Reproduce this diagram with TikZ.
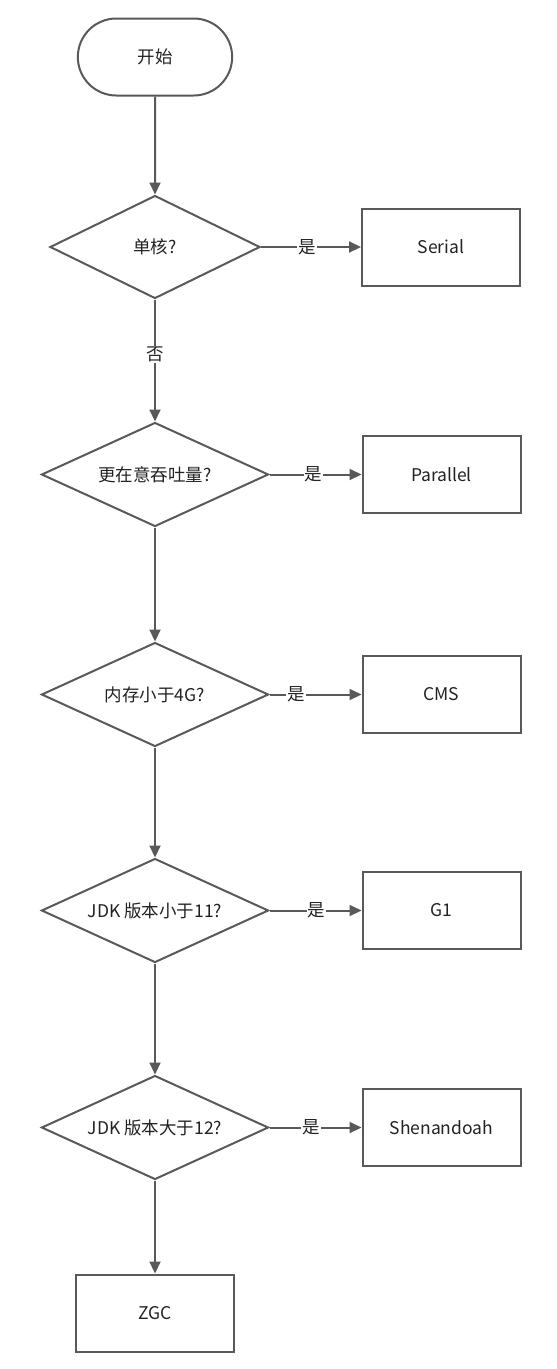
\documentclass[tikz,border=0pt]{standalone}
\usepackage{fontspec}
\setmainfont{Noto Sans CJK SC}
\usepackage{tikz}
\usetikzlibrary{shapes.geometric,shapes.misc,arrows.meta,positioning}

\definecolor{linegray}{HTML}{595959}
\definecolor{textdark}{HTML}{222222}

\begin{document}
\begin{tikzpicture}[
    x=1pt, y=-1pt,
    font=\fontsize{17.5}{20}\selectfont,
    every node/.style={text=textdark},
    startstop/.style={rounded rectangle, draw=linegray, line width=2pt, minimum width=158pt, minimum height=77pt},
    decision/.style={diamond, aspect=2.2, draw=linegray, line width=2pt, inner sep=0pt, minimum width=227pt, minimum height=104pt},
    process/.style={rectangle, draw=linegray, line width=2pt, minimum width=158pt, minimum height=77pt},
    arrow/.style={-{Triangle[length=12pt,width=11pt]}, draw=linegray, line width=2pt},
    yes/.style={fill=white, inner sep=1pt}
]
    \useasboundingbox (0,0) rectangle (557,1369);

    \node[startstop, minimum width=161pt] (start) at (155,57) {开始};
    \node[decision, below=98pt of start, minimum width=210pt, minimum height=103pt] (core) {单核?};
    \node[process, right=100pt of core] (serial) {Serial};
    \node[decision, below=122pt of core] (thru) {更在意吞吐量?};
    \node[process, right=92pt of thru] (parallel) {Parallel};
    \node[decision, below=114pt of thru] (mem) {内存小于4G?};
    \node[process, right=92pt of mem] (cms) {CMS};
    \node[decision, below=110pt of mem] (jdk11) {JDK 版本小于11?};
    \node[process, right=92pt of jdk11] (g1) {G1};
    \node[decision, below=111pt of jdk11] (jdk12) {JDK 版本大于12?};
    \node[process, right=92pt of jdk12] (shen) {Shenandoah};
    \node[process, below=93pt of jdk12] (zgc) {ZGC};

    \draw[arrow] (start) -- (core);
    \draw[arrow] (core) -- node[yes, pos=0.46] {是} (serial);
    \draw[arrow] (core) -- node[yes, pos=0.45] {否} (thru);
    \draw[arrow] (thru) -- node[yes, pos=0.48] {是} (parallel);
    \draw[arrow] (thru) -- (mem);
    \draw[arrow] (mem) -- node[yes, pos=0.29] {是} (cms);
    \draw[arrow] (mem) -- (jdk11);
    \draw[arrow] (jdk11) -- node[yes, pos=0.51] {是} (g1);
    \draw[arrow] (jdk11) -- (jdk12);
    \draw[arrow] (jdk12) -- node[yes, pos=0.45] {是} (shen);
    \draw[arrow] (jdk12) -- (zgc);
\end{tikzpicture}
\end{document}
